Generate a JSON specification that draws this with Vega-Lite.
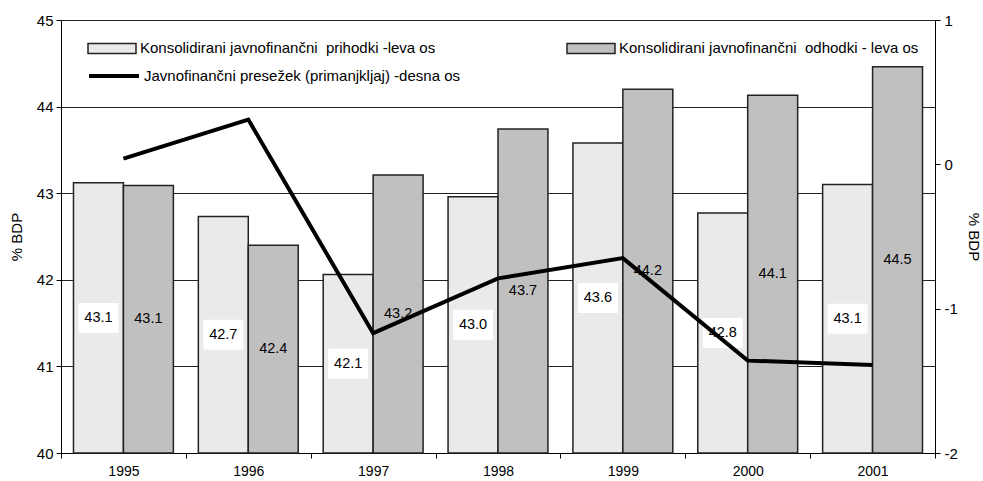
{
  "$schema": "https://vega.github.io/schema/vega-lite/v6.json",
  "width": 874,
  "height": 433,
  "autosize": {"type": "none"},
  "padding": {"left": 61, "top": 20, "right": 48, "bottom": 28},
  "background": "white",
  "config": {
    "view": {"stroke": null},
    "font": "Liberation Sans",
    "axis": {"labelColor": "#000", "titleColor": "#000", "domainColor": "#000", "tickColor": "#000", "labelFontSize": 15, "titleFontSize": 15, "titleFontWeight": "normal"}
  },
  "datasets": {
    "bars": [
      {"year": "1995", "series": "Konsolidirani javnofinančni  prihodki -leva os", "value": 43.12},
      {"year": "1995", "series": "Konsolidirani javnofinančni  odhodki - leva os", "value": 43.09},
      {"year": "1996", "series": "Konsolidirani javnofinančni  prihodki -leva os", "value": 42.73},
      {"year": "1996", "series": "Konsolidirani javnofinančni  odhodki - leva os", "value": 42.40},
      {"year": "1997", "series": "Konsolidirani javnofinančni  prihodki -leva os", "value": 42.06},
      {"year": "1997", "series": "Konsolidirani javnofinančni  odhodki - leva os", "value": 43.21},
      {"year": "1998", "series": "Konsolidirani javnofinančni  prihodki -leva os", "value": 42.96},
      {"year": "1998", "series": "Konsolidirani javnofinančni  odhodki - leva os", "value": 43.74},
      {"year": "1999", "series": "Konsolidirani javnofinančni  prihodki -leva os", "value": 43.58},
      {"year": "1999", "series": "Konsolidirani javnofinančni  odhodki - leva os", "value": 44.20},
      {"year": "2000", "series": "Konsolidirani javnofinančni  prihodki -leva os", "value": 42.77},
      {"year": "2000", "series": "Konsolidirani javnofinančni  odhodki - leva os", "value": 44.13},
      {"year": "2001", "series": "Konsolidirani javnofinančni  prihodki -leva os", "value": 43.10},
      {"year": "2001", "series": "Konsolidirani javnofinančni  odhodki - leva os", "value": 44.46}
    ],
    "balance": [
      {"year": "1995", "balance": 0.04},
      {"year": "1996", "balance": 0.31},
      {"year": "1997", "balance": -1.17},
      {"year": "1998", "balance": -0.79},
      {"year": "1999", "balance": -0.65},
      {"year": "2000", "balance": -1.36},
      {"year": "2001", "balance": -1.39}
    ]
  },
  "layer": [
    {
      "data": {"name": "bars"},
      "mark": {"type": "bar", "stroke": "#222", "strokeWidth": 1.5},
      "encoding": {
        "x": {
          "field": "year", "type": "nominal",
          "scale": {"paddingInner": 0, "paddingOuter": 0},
          "axis": {"title": null, "tickBand": "extent", "labelAngle": 0, "labelFontSize": 14, "tickSize": 5, "labelPadding": 6, "grid": false}
        },
        "xOffset": {
          "field": "series", "type": "nominal",
          "scale": {"domain": ["Konsolidirani javnofinančni  prihodki -leva os", "Konsolidirani javnofinančni  odhodki - leva os"], "paddingInner": 0, "paddingOuter": 0.25}
        },
        "y": {
          "field": "value", "type": "quantitative",
          "scale": {"domain": [40, 45], "nice": false, "zero": false},
          "axis": {"orient": "left", "values": [40, 41, 42, 43, 44, 45], "title": "% BDP", "grid": true, "gridColor": "#222", "gridOpacity": 1, "tickSize": 5, "labelPadding": 3, "titlePadding": 12}
        },
        "y2": {"datum": 40},
        "fill": {
          "field": "series", "type": "nominal",
          "scale": {"domain": ["Konsolidirani javnofinančni  prihodki -leva os", "Konsolidirani javnofinančni  odhodki - leva os"], "range": ["#eaeaea", "#c0c0c0"]},
          "legend": {"orient": "none", "legendX": 26, "legendY": 3, "columns": 2, "columnPadding": 124, "title": null, "padding": 0, "symbolType": "M-1,-0.21H1V0.21H-1Z", "symbolSize": 2304, "symbolStrokeColor": "#222", "symbolStrokeWidth": 1.5, "labelFontSize": 15, "labelOffset": 3, "labelColor": "#000", "labelLimit": 0, "labelExpr": "replace(datum.label, 'javnofinančni ', 'javnofinančni\u00a0 ')"}
        }
      }
    },
    {
      "data": {"name": "bars"},
      "transform": [{"filter": "datum.series === 'Konsolidirani javnofinančni  prihodki -leva os'"}],
      "mark": {"type": "point", "shape": "M-1,-0.75H1V0.75H-1Z", "filled": true, "color": "white", "opacity": 1, "size": 1600},
      "encoding": {
        "x": {"field": "year", "type": "nominal"},
        "xOffset": {"field": "series", "type": "nominal"},
        "y": {"field": "value", "type": "quantitative", "scale": {"domain": [40, 50], "nice": false, "zero": false}, "axis": null}
      }
    },
    {
      "data": {"name": "bars"},
      "mark": {"type": "text", "fontSize": 14.5, "color": "#000", "baseline": "middle", "align": "center"},
      "encoding": {
        "x": {"field": "year", "type": "nominal"},
        "xOffset": {"field": "series", "type": "nominal"},
        "y": {"field": "value", "type": "quantitative", "scale": {"domain": [40, 50], "nice": false, "zero": false}, "axis": null},
        "text": {"field": "value", "type": "quantitative", "format": ".1f"}
      }
    },
    {
      "data": {"name": "balance"},
      "mark": {"type": "line", "strokeWidth": 4},
      "encoding": {
        "x": {"field": "year", "type": "nominal"},
        "y": {
          "field": "balance", "type": "quantitative",
          "scale": {"domain": [-2, 1], "nice": false, "zero": false},
          "axis": {"orient": "right", "values": [-2, -1, 0, 1], "title": "% BDP", "titleAngle": 90, "grid": false, "tickSize": 5, "labelPadding": 4, "titlePadding": 8, "labelExpr": "replace(datum.label, '−', '-')"}
        },
        "stroke": {
          "datum": "Javnofinančni presežek (primanjkljaj) -desna os", "type": "nominal",
          "scale": {"range": ["#000"]},
          "legend": {"orient": "none", "legendX": 26, "legendY": 29, "title": null, "padding": 0, "symbolType": "stroke", "symbolSize": 2500, "symbolStrokeWidth": 4, "labelFontSize": 15, "labelOffset": 3, "labelColor": "#000", "labelLimit": 0}
        }
      }
    }
  ],
  "resolve": {"scale": {"y": "independent"}}
}
